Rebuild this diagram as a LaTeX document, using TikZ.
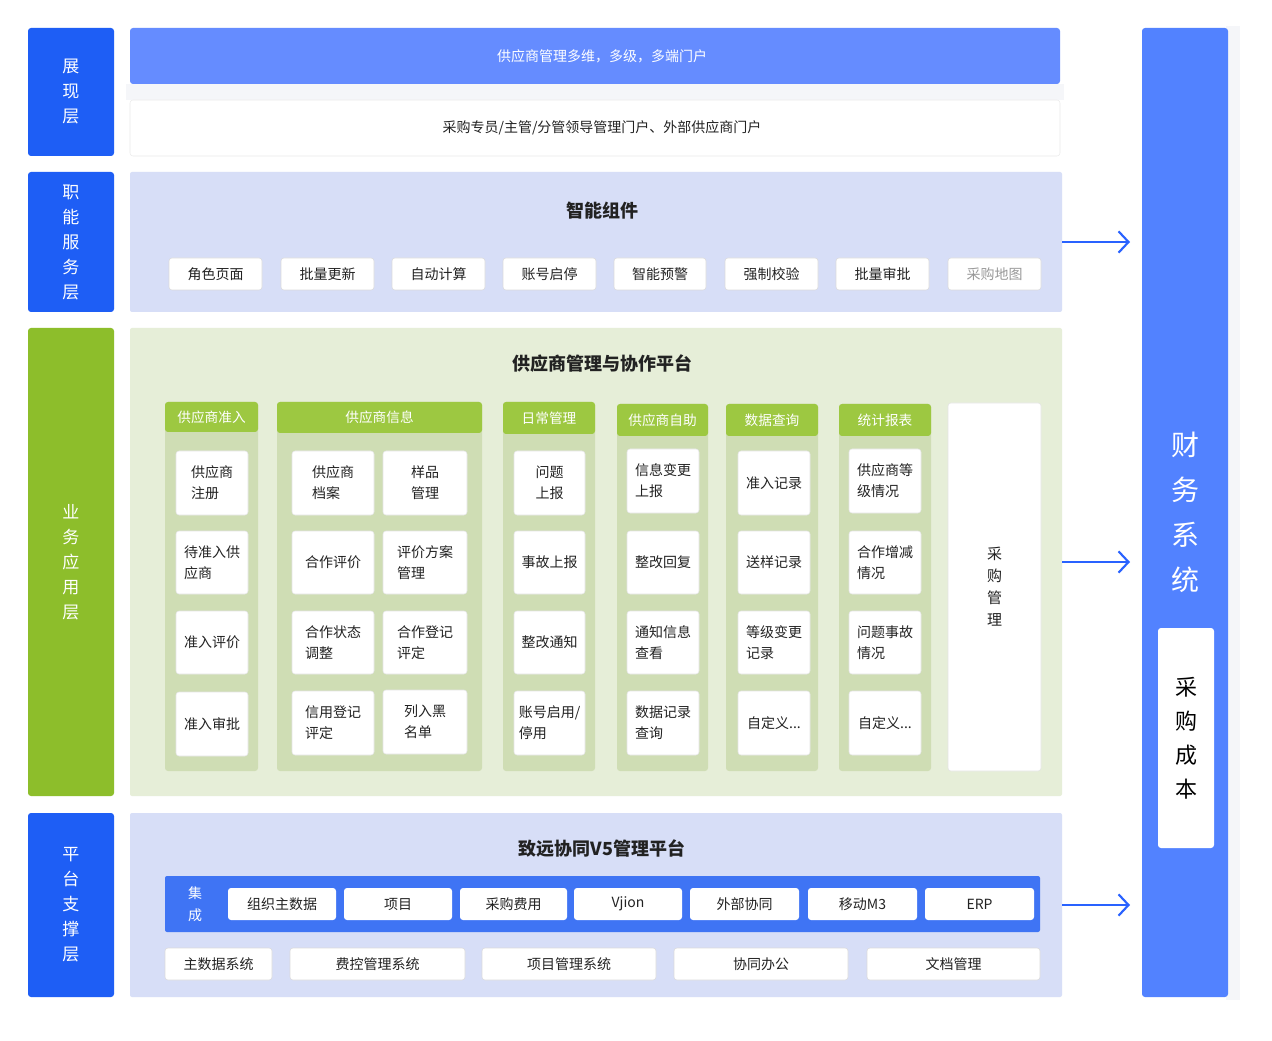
\documentclass[tikz,border=0pt]{standalone}
\usepackage{fontspec}
\setmainfont{Noto Sans CJK SC}
\usetikzlibrary{arrows.meta,calc}
\definecolor{labblue}{HTML}{1E5EF5}
\definecolor{topbar}{HTML}{658CFF}
\definecolor{panelblue}{HTML}{D7DEF7}
\definecolor{finblue}{HTML}{5282FF}
\definecolor{bandblue}{HTML}{3F74F4}
\definecolor{labgreen}{HTML}{8DBE2B}
\definecolor{hdgreen}{HTML}{9DC841}
\definecolor{panelgreen}{HTML}{E6EED8}
\definecolor{colgreen}{HTML}{CFDDB4}
\definecolor{txt}{HTML}{222222}
\definecolor{arrblue}{HTML}{2962FF}
\definecolor{bggrey}{HTML}{F5F6F9}
\newcommand\mybox[7]{\node[#2,minimum width={(#5-#3)*0.75pt},minimum height={(#6-#4)*0.75pt}] (#1) at ({(#3+#5)/2},{(#4+#6)/2}) {#7};}
\tikzset{
  base/.style={inner sep=0pt,outer sep=0pt,rounded corners=2.25pt,align=center,text=txt,font=\fontsize{10.5}{15.75}\selectfont},
  lab/.style={base,fill=labblue,text=white,font=\fontsize{12.75}{18.75}\selectfont},
  labg/.style={lab,fill=labgreen},
  panel/.style={base,fill=panelblue,rounded corners=1.5pt},
  item/.style={base,fill=white,draw=black!10,line width=0.4pt,align=left},
  btn/.style={base,fill=white,draw=black!14,line width=0.4pt},
  head/.style={base,fill=hdgreen,text=white,font=\fontsize{10.25}{12}\selectfont},
  colbody/.style={base,fill=colgreen},
  ttl/.style={inner sep=0pt,text=txt,font=\bfseries\fontsize{13.5}{16}\selectfont},
  conn/.style={draw=arrblue,line width=1.6pt,-{Straight Barb[length=7.5pt,width=16pt,line width=1.6pt]},shorten >=9pt},
}
\begin{document}
\begin{tikzpicture}[x=0.75pt,y=-0.75pt]
\useasboundingbox (0,0) rectangle (1272,1041);
\fill[white] (0,0) rectangle (1272,1041);
\fill[bggrey] (126,84) rectangle (1064,100);
\fill[bggrey] (1226,26) rectangle (1240,1000);
% left labels
\mybox{lshow}{lab}{28}{28}{114}{156}{展\\现\\层}
\mybox{lfunc}{lab}{28}{172}{114}{312}{职\\能\\服\\务\\层}
\mybox{lbiz}{labg}{28}{328}{114}{796}{业\\务\\应\\用\\层}
\mybox{lplat}{lab}{28}{813}{114}{997}{平\\台\\支\\撑\\层}
% presentation layer
\mybox{topbar}{base,fill=topbar,text=white,font=\fontsize{10.5}{12}\selectfont}{130}{28}{1060}{84}{\hspace*{10.5pt}供应商管理多维，多级，多端门户}
\mybox{portal}{base,fill=white,draw=black!8,font=\fontsize{10.5}{12}\selectfont}{130}{100}{1060}{156}{\hspace*{10.5pt}采购专员/主管/分管领导管理门户、外部供应商门户}
% function layer
\mybox{fpanel}{panel}{130}{172}{1062}{312}{}
\node[ttl] (ftitle) at (602,211) {智能组件};
\mybox{b1}{btn}{169}{258}{262}{290}{角色页面}
\mybox{b2}{btn}{281}{258}{374}{290}{批量更新}
\mybox{b3}{btn}{392}{258}{485}{290}{自动计算}
\mybox{b4}{btn}{503}{258}{596}{290}{账号启停}
\mybox{b5}{btn}{614}{258}{706}{290}{智能预警}
\mybox{b6}{btn}{725}{258}{818}{290}{强制校验}
\mybox{b7}{btn}{836}{258}{929}{290}{批量审批}
\mybox{b8}{btn,text=black!40}{948}{258}{1041}{290}{采购地图}
% business layer
\mybox{bpanel}{panel,fill=panelgreen}{130}{328}{1062}{796}{}
\node[ttl] (btitle) at (602,364) {供应商管理与协作平台};
% col1
\mybox{c1b}{colbody}{165}{402}{258}{771}{}
\mybox{c1h}{head}{165}{402}{258}{432}{供应商准入}
\mybox{c1a}{item}{176}{451}{248}{515}{供应商\\注册}
\mybox{c1c}{item}{176}{531}{248}{594}{待准入供\\应商}
\mybox{c1d}{item}{176}{611}{248}{674}{准入评价}
\mybox{c1e}{item}{176}{692}{248}{756}{准入审批}
% col2
\mybox{c2b}{colbody}{277}{402}{482}{771}{}
\mybox{c2h}{head}{277}{402}{482}{433}{供应商信息}
\mybox{c2a}{item}{292}{451}{374}{515}{供应商\\档案}
\mybox{c2a2}{item}{383}{451}{467}{515}{样品\\管理}
\mybox{c2c}{item}{292}{531}{374}{594}{合作评价}
\mybox{c2c2}{item}{383}{531}{467}{594}{评价方案\\管理}
\mybox{c2d}{item}{292}{611}{374}{674}{合作状态\\调整}
\mybox{c2d2}{item}{383}{611}{467}{674}{合作登记\\评定}
\mybox{c2e}{item}{292}{691}{374}{755}{信用登记\\评定}
\mybox{c2e2}{item}{383}{690}{467}{754}{列入黑\\名单}
% col3
\mybox{c3b}{colbody}{503}{402}{595}{771}{}
\mybox{c3h}{head}{503}{402}{595}{434}{日常管理}
\mybox{c3a}{item}{514}{451}{585}{515}{问题\\上报}
\mybox{c3c}{item}{514}{531}{585}{594}{事故上报}
\mybox{c3d}{item}{514}{611}{585}{674}{整改通知}
\mybox{c3e}{item}{514}{691}{585}{755}{账号启用/\\停用}
% col4
\mybox{c4b}{colbody}{617}{404}{708}{771}{}
\mybox{c4h}{head}{617}{404}{708}{436}{供应商自助}
\mybox{c4a}{item}{627}{449}{699}{513}{信息变更\\上报}
\mybox{c4c}{item}{627}{531}{699}{594}{整改回复}
\mybox{c4d}{item}{627}{611}{699}{674}{通知信息\\查看}
\mybox{c4e}{item}{627}{691}{699}{755}{数据记录\\查询}
% col5
\mybox{c5b}{colbody}{726}{404}{818}{771}{}
\mybox{c5h}{head}{726}{404}{818}{436}{数据查询}
\mybox{c5a}{item}{738}{451}{810}{515}{准入记录}
\mybox{c5c}{item}{738}{531}{810}{594}{送样记录}
\mybox{c5d}{item}{738}{611}{810}{674}{等级变更\\记录}
\mybox{c5e}{item}{738}{691}{810}{755}{自定义...}
% col6
\mybox{c6b}{colbody}{839}{404}{931}{771}{}
\mybox{c6h}{head}{839}{404}{931}{436}{统计报表}
\mybox{c6a}{item}{849}{449}{921}{513}{供应商等\\级情况}
\mybox{c6c}{item}{849}{531}{921}{594}{合作增减\\情况}
\mybox{c6d}{item}{849}{611}{921}{674}{问题事故\\情况}
\mybox{c6e}{item}{849}{691}{921}{755}{自定义...}
% col7
\mybox{c7}{item,align=center,font=\fontsize{11.25}{16.5}\selectfont}{948}{403}{1041}{771}{采\\购\\管\\理}
% platform layer
\mybox{ppanel}{panel}{130}{813}{1062}{997}{}
\node[ttl] (ptitle) at (602,848) {致远协同V5管理平台};
\mybox{band}{base,fill=bandblue,rounded corners=1.5pt}{165}{876}{1040}{932}{}
\node[inner sep=0pt,text=white,align=center,font=\fontsize{10.5}{16.5}\selectfont] (jc) at (195,904) {集\\成};
\mybox{i1}{btn,draw=none}{228}{888}{336}{920}{组织主数据}
\mybox{i2}{btn,draw=none}{344}{888}{452}{920}{项目}
\mybox{i3}{btn,draw=none}{460}{888}{567}{920}{采购费用}
\mybox{i4}{btn,draw=none}{574}{888}{682}{920}{Vjion}
\mybox{i5}{btn,draw=none}{690}{888}{799}{920}{外部协同}
\mybox{i6}{btn,draw=none}{808}{888}{917}{920}{移动M3}
\mybox{i7}{btn,draw=none}{925}{888}{1034}{920}{ERP}
\mybox{s1}{btn}{165}{948}{272}{980}{主数据系统}
\mybox{s2}{btn}{290}{948}{465}{980}{费控管理系统}
\mybox{s3}{btn}{482}{948}{656}{980}{项目管理系统}
\mybox{s4}{btn}{674}{948}{848}{980}{协同办公}
\mybox{s5}{btn}{867}{948}{1040}{980}{文档管理}
% finance column
\mybox{fin}{base,fill=finblue,text=white,font=\fontsize{21}{33.75}\selectfont}{1142}{28}{1228}{997}{财\\务\\系\\统}
\mybox{cost}{base,fill=white,text=black,font=\fontsize{16.5}{25.5}\selectfont}{1158}{628}{1214}{848}{采\\购\\成\\本}
% connectors
\draw[conn] (fpanel.east) -- (fpanel.east -| fin.west);
\draw[conn] (bpanel.east) -- (bpanel.east -| fin.west);
\draw[conn] (ppanel.east) -- (ppanel.east -| fin.west);
\end{tikzpicture}
\end{document}
